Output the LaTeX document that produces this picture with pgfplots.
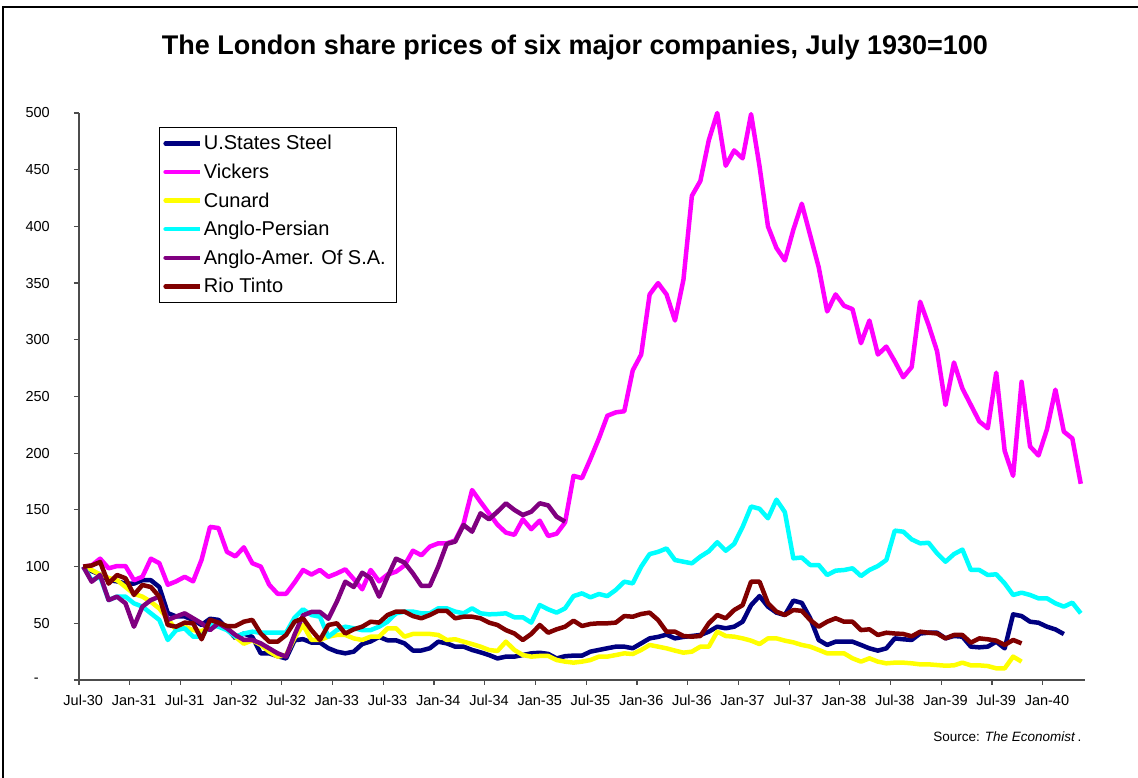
\documentclass[border=0pt]{standalone}
\usepackage{fontspec}
\setmainfont{Liberation Sans}
\usepackage{pgfplots}
\pgfplotsset{compat=1.18}
\definecolor{cUSS}{RGB}{0,0,128}
\definecolor{cVIC}{RGB}{255,0,255}
\definecolor{cCUN}{RGB}{255,255,0}
\definecolor{cAPE}{RGB}{0,255,255}
\definecolor{cAAM}{RGB}{128,0,128}
\definecolor{cRIO}{RGB}{128,0,0}
\begin{document}
\begin{tikzpicture}[x=1pt,y=1pt]
\path[use as bounding box] (0,0) rectangle (1138,778);
\draw[line width=1.2pt] (3,0) -- (3,771) -- (1138,771);
\node[font=\fontsize{27}{31}\selectfont\bfseries, anchor=base] at (575,723) {The London share prices of six major companies, July 1930=100};
\node[anchor=base east, font=\fontsize{13.5}{16}\selectfont] at (1085,36) {Source: \textit{The Economist}\,.};
\begin{axis}[at={(79pt,98pt)}, anchor=south west, scale only axis,
  width=1006pt, height=567pt,
  xmin=-0.5, xmax=118.5, ymin=0, ymax=500,
  clip=false,
  axis lines*=left,
  axis line style={black!70, line width=1.2pt},
  tick style={black!70, line width=1.2pt},
  major tick length=5pt, tick align=outside,
  xtick={-0.5,5.5,...,113.5},
  xticklabels={Jul-30,Jan-31,Jul-31,Jan-32,Jul-32,Jan-33,Jul-33,Jan-34,Jul-34,Jan-35,Jul-35,Jan-36,Jul-36,Jan-37,Jul-37,Jan-38,Jul-38,Jan-39,Jul-39,Jan-40},
  xticklabel style={xshift=4.23pt, inner sep=0pt, yshift=-10pt},
  ytick={0,50,...,500},
  yticklabels={{-\hspace*{11pt}},50,100,150,200,250,300,350,400,450,500},
  yticklabel style={inner sep=0pt, xshift=-24pt},
  tick label style={font=\fontsize{14.5}{17}\selectfont},
  /pgf/number format/assume math mode=true,
  legend style={at={(0.0795,0.9753)}, anchor=north west, draw=black, line width=0.8pt,
    font=\fontsize{20}{24}\selectfont, inner xsep=4pt, inner ysep=6pt,
    row sep=8.6pt},
  legend cell align=left,
  legend image code/.code={\draw[#1, line cap=round] (0pt,0pt) -- (30pt,0pt); \path (0pt,0pt) -- (34pt,0pt);},
  every axis plot/.append style={line width=4.5pt, line join=round},
]
\addplot[cUSS] coordinates {(0,100)(1,96)(2,93)(3,88)(4,87)(5,85)(6,85)(7,88)(8,88)(9,82)(10,59)(11,56)(12,56)(13,53)(14,48.5)(15,54)(16,53)(17,45.5)(18,37)(19,41)(20,38)(21,23.5)(22,23.5)(23,21)(24,19)(25,35)(26,36)(27,33)(28,33)(29,28)(30,25)(31,23.5)(32,25)(33,31.7)(34,34)(35,38)(36,35)(37,35)(38,32.3)(39,26)(40,26)(41,28)(42,33.8)(43,32.3)(44,29.4)(45,29.4)(46,26.5)(47,24.4)(48,22)(49,19)(50,20.6)(51,20.6)(52,22)(53,23.5)(54,24)(55,23)(56,19)(57,21)(58,21.5)(59,21.5)(60,25)(61,26.5)(62,28)(63,29.4)(64,29.4)(65,28)(66,32.3)(67,36.7)(68,38)(69,40)(70,36.7)(71,38)(72,38.8)(73,39.7)(74,42.6)(75,47)(76,45.6)(77,47)(78,51.4)(79,66)(80,74)(81,64.7)(82,59.4)(83,57.3)(84,70)(85,68)(86,54.4)(87,35.3)(88,30.9)(89,33.8)(90,33.8)(91,33.8)(92,30.9)(93,27.9)(94,25.9)(95,27.9)(96,36.7)(97,35.9)(98,35.3)(99,41)(100,41.7)(101,41.7)(102,36.7)(103,38.8)(104,38.2)(105,29.4)(106,28.8)(107,29.4)(108,33.8)(109,27.9)(110,57.9)(111,56.4)(112,51.4)(113,50.5)(114,47)(115,44.6)(116,40.5)};
\addlegendentry{U.States Steel}
\addplot[cVIC] coordinates {(0,100)(1,101)(2,107)(3,98.5)(4,100.5)(5,100.5)(6,88)(7,91)(8,107)(9,103)(10,84)(11,87)(12,91)(13,87)(14,106)(15,135)(16,134)(17,113)(18,109)(19,117)(20,103)(21,100)(22,84)(23,76)(24,76)(25,86)(26,97)(27,93)(28,97)(29,91)(30,94)(31,97.6)(32,89)(33,80)(34,97)(35,87)(36,93)(37,95.5)(38,101)(39,114)(40,110)(41,117.6)(42,120.5)(43,120.5)(44,123)(45,138)(46,167.5)(47,157)(48,147)(49,137)(50,130)(51,128)(52,141.7)(53,133)(54,140.5)(55,127)(56,129)(57,139)(58,180)(59,178)(60,195)(61,213)(62,233)(63,236)(64,237)(65,273)(66,287)(67,340)(68,350)(69,340)(70,317)(71,353)(72,427)(73,440)(74,476)(75,500)(76,453.5)(77,467)(78,460)(79,499)(80,453)(81,400)(82,381)(83,370)(84,397)(85,420)(86,392)(87,364)(88,325)(89,340)(90,330)(91,327)(92,297)(93,317)(94,287)(95,294)(96,281)(97,267)(98,276)(99,333.6)(100,313)(101,290)(102,242.5)(103,280)(104,257)(105,242.5)(106,228)(107,222)(108,271)(109,202)(110,180)(111,263)(112,206)(113,198)(114,221)(115,256)(116,219)(117,213)(118,173)};
\addlegendentry{Vickers}
\addplot[cCUN] coordinates {(0,100)(1,97)(2,93)(3,90)(4,88)(5,82)(6,76)(7,73.5)(8,69)(9,63)(10,54)(11,44)(12,47)(13,44)(14,43)(15,47)(16,48.5)(17,47)(18,38)(19,32)(20,35)(21,31)(22,25)(23,20.6)(24,22)(25,37)(26,48.5)(27,35.3)(28,35.3)(29,38.2)(30,39.7)(31,39.7)(32,36.7)(33,35.3)(34,38.2)(35,38.2)(36,45.6)(37,45.6)(38,38.2)(39,40.6)(40,40.6)(41,40.6)(42,39.7)(43,35.3)(44,35.9)(45,33.8)(46,31.7)(47,29.4)(48,26.5)(49,25.6)(50,33.8)(51,26.5)(52,22)(53,20.6)(54,21.2)(55,21.2)(56,17.6)(57,16.2)(58,15.3)(59,16.2)(60,17.6)(61,20.6)(62,20.6)(63,22)(64,23.5)(65,22.9)(66,26.5)(67,30.9)(68,29.4)(69,27.9)(70,25.9)(71,24.1)(72,25)(73,29.4)(74,29.4)(75,42.6)(76,38.8)(77,38.2)(78,36.7)(79,34.7)(80,31.7)(81,36.7)(82,36.7)(83,34.7)(84,33.2)(85,30.9)(86,29.4)(87,26.5)(88,23.5)(89,23.5)(90,23.5)(91,19.1)(92,16.2)(93,19.1)(94,16.2)(95,14.7)(96,15.3)(97,15.3)(98,14.7)(99,13.8)(100,13.8)(101,13.2)(102,12.6)(103,12.9)(104,15.3)(105,12.9)(106,12.9)(107,12.3)(108,10.3)(109,10.3)(110,20.6)(111,16.2)};
\addlegendentry{Cunard}
\addplot[cAPE] coordinates {(0,100)(1,88)(2,91)(3,70.5)(4,73.5)(5,73.5)(6,67.6)(7,64.7)(8,58.8)(9,53)(10,35.3)(11,44)(12,45.6)(13,38.2)(14,38.2)(15,48.5)(16,47)(17,44)(18,38.2)(19,41)(20,42.6)(21,41.7)(22,41.7)(23,41.7)(24,41.7)(25,55)(26,62.3)(27,57.3)(28,55.8)(29,38.2)(30,44)(31,47)(32,45.6)(33,44)(34,44)(35,47)(36,51.4)(37,58.8)(38,60.3)(39,60.3)(40,58.8)(41,58.8)(42,63.2)(43,63.2)(44,60.3)(45,58.8)(46,63.2)(47,58.8)(48,57.9)(49,58.2)(50,58.8)(51,55.3)(52,55.3)(53,50.6)(54,66.1)(55,62.3)(56,59.4)(57,63.2)(58,74)(59,76.4)(60,72.9)(61,75.8)(62,74)(63,79.4)(64,86.7)(65,85.2)(66,99.9)(67,111)(68,113)(69,116)(70,105.8)(71,104.3)(72,102.9)(73,108.8)(74,113.5)(75,121.5)(76,114)(77,120)(78,135)(79,153)(80,151)(81,142.6)(82,159)(83,148)(84,107.3)(85,108)(86,101.4)(87,101.4)(88,92.6)(89,96.4)(90,97)(91,98.5)(92,91.7)(93,97)(94,100.5)(95,105.8)(96,131.7)(97,130.8)(98,124)(99,120.5)(100,121)(101,111.7)(102,104.3)(103,111)(104,115)(105,97)(106,97)(107,92.6)(108,93.2)(109,85.2)(110,75)(111,77)(112,75)(113,72)(114,72)(115,67.6)(116,64.7)(117,68.2)(118,58.8)};
\addlegendentry{Anglo-Persian}
\addplot[cAAM] coordinates {(0,100)(1,86.7)(2,92.6)(3,70.5)(4,73.5)(5,67.6)(6,47)(7,64.7)(8,70.5)(9,73.5)(10,53)(11,56)(12,58.8)(13,54.4)(14,50)(15,44)(16,50)(17,45.6)(18,39.7)(19,35.3)(20,35.3)(21,32.3)(22,27.9)(23,23.5)(24,20.6)(25,40)(26,57)(27,60)(28,60)(29,54)(30,69)(31,86.7)(32,82)(33,94.6)(34,89.7)(35,73.5)(36,91)(37,107)(38,103.5)(39,94)(40,83)(41,83)(42,100)(43,120)(44,122)(45,136.7)(46,130.8)(47,147)(48,141.7)(49,148.4)(50,155.8)(51,150)(52,145.5)(53,148.4)(54,155.8)(55,154)(56,144)(57,139.6)};
\addlegendentry{Anglo-Amer. Of S.A.\hspace*{5pt}}
\addplot[cRIO] coordinates {(0,100)(1,101)(2,104)(3,85)(4,92.6)(5,89.7)(6,75)(7,83.8)(8,82)(9,73.5)(10,48.5)(11,47)(12,50.6)(13,50)(14,35.9)(15,53)(16,50.6)(17,47.6)(18,47.6)(19,51.4)(20,53)(21,41)(22,33.8)(23,33.8)(24,39.7)(25,51.4)(26,54.4)(27,44)(28,35.3)(29,48.5)(30,50)(31,41)(32,44.7)(33,47)(34,51.4)(35,50.6)(36,57.3)(37,60.3)(38,60.3)(39,56.4)(40,54.4)(41,57.3)(42,61)(43,61)(44,54.4)(45,55.8)(46,55.8)(47,54.4)(48,50.6)(49,48.5)(50,44)(51,41)(52,35.3)(53,40.6)(54,48.5)(55,41.7)(56,44.7)(57,47)(58,52.3)(59,47.6)(60,49.4)(61,50)(62,50)(63,50.6)(64,56.4)(65,55.8)(66,58.2)(67,59.4)(68,52.9)(69,42.6)(70,42.6)(71,38.8)(72,38.2)(73,38.8)(74,50)(75,57.3)(76,54.4)(77,61.7)(78,66)(79,86.7)(80,86.7)(81,67.6)(82,60.3)(83,57.3)(84,61.7)(85,61)(86,52.9)(87,47)(88,51.4)(89,54.4)(90,51.4)(91,51.4)(92,44)(93,44.7)(94,39.7)(95,41.7)(96,41)(97,40.6)(98,38.5)(99,42.6)(100,41.7)(101,41)(102,36.7)(103,39.7)(104,39.7)(105,32.9)(106,36.7)(107,35.9)(108,34.7)(109,30.9)(110,35.3)(111,32.3)};
\addlegendentry{Rio Tinto}
\end{axis}
\end{tikzpicture}
\end{document}
